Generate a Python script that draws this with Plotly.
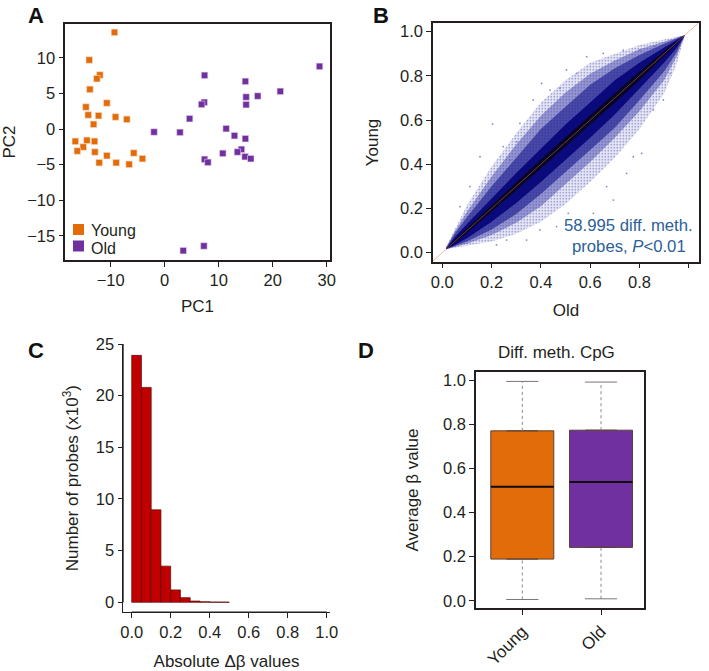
import plotly.graph_objects as go

W, H = 709, 671
FONT = "Liberation Sans"
INK = "#231f20"
ORANGE = "#E36C0A"
PURPLE = "#7030A0"
TITLE_SIZE = 17
TICK_SIZE = 16.5

# Panel A
young_pc1 = [-9.29,-13.96,-11.99,-12.55,-13.84,-10.7,-14.58,-14.15,-12.24,-9.1,-7.01,-13.16,-16.54,-14.39,-12.98,-15.07,-16.17,-12.92,-10.7,-5.72,-4.12,-12.12,-8.98,-6.58]
young_pc2 = [13.58,9.69,7.58,7.07,5.57,3.65,3.09,1.97,1.87,1.69,1.36,0.66,-1.73,-1.59,-1.73,-2.53,-3.09,-3.23,-3.75,-3.37,-4.17,-4.73,-4.73,-4.96]
old_pc1 = [28.66,7.38,14.94,21.4,17.22,15.07,15.07,7.32,6.83,4.61,-1.97,2.83,11.38,12.92,14.94,14.21,13.47,10.76,14.88,15.93,7.38,8.0,7.26,3.44]
old_pc2 = [8.8,7.54,6.69,5.29,4.63,4.49,3.42,3.75,3.46,1.45,-0.42,-0.47,0.05,-0.94,-1.36,-2.86,-3.23,-3.42,-3.89,-4.17,-4.26,-4.68,-16.43,-17.09]

# Panel B: density envelopes of the point cloud
band_x = [0.015,0.05,0.1,0.2,0.3,0.4,0.5,0.6,0.7,0.8,0.9,0.95,0.985]
sparse_hi = [0.025,0.105,0.215,0.39,0.54,0.68,0.78,0.86,0.90,0.94,0.965,0.978,0.985]
sparse_lo = [0.015,0.022,0.032,0.05,0.085,0.14,0.22,0.32,0.43,0.56,0.72,0.85,0.985]
outer_hi = [0.022,0.095,0.185,0.345,0.49,0.62,0.725,0.81,0.87,0.92,0.955,0.972,0.985]
outer_lo = [0.015,0.025,0.04,0.08,0.135,0.21,0.31,0.41,0.52,0.64,0.78,0.885,0.985]
mid_hi = [0.02,0.085,0.16,0.30,0.43,0.56,0.66,0.76,0.835,0.895,0.945,0.968,0.985]
mid_lo = [0.015,0.028,0.05,0.105,0.175,0.265,0.365,0.465,0.565,0.69,0.82,0.905,0.985]
dense_hi = [0.018,0.07,0.13,0.245,0.36,0.47,0.58,0.68,0.78,0.86,0.93,0.962,0.985]
dense_lo = [0.015,0.033,0.065,0.14,0.225,0.32,0.42,0.52,0.625,0.74,0.86,0.925,0.985]
core_hi = [0.018,0.058,0.11,0.215,0.318,0.422,0.522,0.622,0.722,0.82,0.912,0.956,0.985]
core_lo = [0.015,0.043,0.09,0.185,0.282,0.378,0.478,0.578,0.678,0.78,0.888,0.944,0.985]
# Scattered probes at the fringe of the cloud
fringe_old = [0.204,0.302,0.369,0.403,0.504,0.653,0.477,0.275,0.153,0.112,0.072,0.586,0.734,0.802,0.315,0.247,0.437,0.545,0.863,
              0.809,0.856,0.748,0.694,0.613,0.511,0.464,0.342,0.261,0.22,0.396,0.775,0.667,0.897,0.924]
fringe_young = [0.582,0.502,0.691,0.766,0.827,0.902,0.744,0.419,0.434,0.299,0.208,0.887,0.917,0.917,0.585,0.48,0.736,0.811,0.932,
                0.449,0.646,0.359,0.238,0.178,0.178,0.118,0.057,0.057,0.035,0.103,0.434,0.299,0.691,0.811]

# Panel C
bin_starts = [0.0,0.05,0.1,0.15,0.2,0.25,0.3,0.35,0.4,0.45]
probe_counts = [23.9,20.8,8.95,3.5,1.2,0.45,0.12,0.06,0.03,0.02]

# Panel D
groups = ["Young","Old"]
q1 = [0.189,0.242]
median = [0.517,0.538]
q3 = [0.770,0.773]
whisker_lo = [0.006,0.009]
whisker_hi = [0.994,0.991]


def dx(a, b):
    return [a / W, b / W]


def dy(top, bottom):
    return [1 - bottom / H, 1 - top / H]


fig = go.Figure()


def axis_style(**kw):
    base = dict(showgrid=False, zeroline=False, ticks="outside", ticklen=4.5, tickwidth=1.4, automargin=False,
                tickcolor=INK, linecolor=INK, tickfont=dict(family=FONT, size=TICK_SIZE, color=INK))
    base.update(kw)
    return base


def title(text, standoff):
    return dict(text=text, standoff=standoff, font=dict(family=FONT, size=TITLE_SIZE, color=INK))


# A
for name, xs, ys, col in [("Young", young_pc1, young_pc2, ORANGE), ("Old", old_pc1, old_pc2, PURPLE)]:
    fig.add_trace(go.Scatter(x=xs, y=ys, mode="markers", name=name, showlegend=False, xaxis="x", yaxis="y",
                             marker=dict(symbol="square", size=6.5, color=col, line=dict(width=0.6, color="#e8d8ee" if col == PURPLE else "#f8dcc4"))))

# B
fig.add_trace(go.Scatter(x=fringe_old, y=fringe_young, mode="markers", showlegend=False, hoverinfo="skip", xaxis="x2", yaxis="y2",
                         marker=dict(size=1.8, color="rgba(70,70,160,0.65)")))
tiers = [
    (sparse_hi, sparse_lo, "rgba(175,175,225,0.30)", dict(shape=".", size=3, solidity=0.16, fgcolor="#3034a0", fgopacity=0.7)),
    (outer_hi, outer_lo, "rgba(90,90,185,0.42)", dict(shape=".", size=2, solidity=0.22, fgcolor="#1a1a90", fgopacity=0.8)),
    (mid_hi, mid_lo, "rgba(25,25,140,0.62)", None),
    (dense_hi, dense_lo, "#0a0a7c", None),
    (core_hi, core_lo, "#060620", None),
]
for hi, lo, col, pat in tiers:
    kw = dict(fillpattern=pat) if pat else {}
    fig.add_trace(go.Scatter(x=band_x + band_x[::-1], y=hi + lo[::-1], mode="lines", fill="toself",
                             fillcolor=col, line=dict(width=0), showlegend=False, hoverinfo="skip",
                             xaxis="x2", yaxis="y2", **kw))
fig.add_trace(go.Scatter(x=[-0.04, 1.045], y=[-0.04, 1.045], mode="lines", showlegend=False, xaxis="x2", yaxis="y2",
                         line=dict(color="rgba(235,110,100,0.5)", width=1)))

# C
fig.add_trace(go.Bar(x=[b + 0.025 for b in bin_starts], y=probe_counts, width=0.05, showlegend=False,
                     marker=dict(color="#C00000", line=dict(color="#5a0a0a", width=0.7)), xaxis="x3", yaxis="y3"))

# D
for i, g in enumerate(groups):
    col = ORANGE if i == 0 else PURPLE
    fig.add_trace(go.Scatter(x=[i, i, None, i, i], y=[whisker_lo[i], q1[i], None, q3[i], whisker_hi[i]], mode="lines",
                             showlegend=False, xaxis="x4", yaxis="y4", line=dict(color="#8a8a8a", width=1, dash="dot")))
    cap = 0.205
    fig.add_trace(go.Scatter(x=[i - cap, i + cap, None, i - cap, i + cap], y=[whisker_lo[i], whisker_lo[i], None, whisker_hi[i], whisker_hi[i]],
                             mode="lines", showlegend=False, xaxis="x4", yaxis="y4", line=dict(color="#777777", width=1)))
    fig.add_trace(go.Box(x=[i], q1=[q1[i]], median=[median[i]], q3=[q3[i]], lowerfence=[q1[i]], upperfence=[q3[i]],
                         width=0.8, name=g, showlegend=False, fillcolor=col, line=dict(color="#5b4030", width=1),
                         xaxis="x4", yaxis="y4"))
    fig.add_trace(go.Scatter(x=[i - 0.4, i + 0.4], y=[median[i], median[i]], mode="lines", showlegend=False,
                             xaxis="x4", yaxis="y4", line=dict(color="#120a10", width=2)))

fig.update_layout(
    width=W, height=H, autosize=False, margin=dict(l=0, r=0, t=0, b=0), paper_bgcolor="white", plot_bgcolor="white",
    font=dict(family=FONT, color=INK), showlegend=False,
    xaxis=axis_style(domain=dx(65, 330), range=[-18.45, 30.6], anchor="y", showline=True, mirror=True, linewidth=2,
                     tickvals=[-10, 0, 10, 20, 30], ticktext=["\u221210", "0", "10", "20", "30"], title=title("PC1", 12)),
    yaxis=axis_style(domain=dy(24, 260), range=[-18.4, 14.75], anchor="x", showline=True, mirror=True, linewidth=2,
                     tickvals=[-15, -10, -5, 0, 5, 10], ticktext=["\u221215", "\u221210", "\u22125", "0", "5", "10"], title=title("PC2", 10)),
    xaxis2=axis_style(domain=dx(432.7, 699.3), range=[-0.039, 1.043], anchor="y2", showline=True, mirror=True, linewidth=2,
                      tickvals=[0, 0.2, 0.4, 0.6, 0.8, 1.0], ticktext=["0.0", "0.2", "0.4", "0.6", "0.8", ""], title=title("Old", 14)),
    yaxis2=axis_style(domain=dy(23.3, 261.7), range=[-0.041, 1.038], anchor="x2", showline=True, mirror=True, linewidth=2,
                      tickvals=[0, 0.2, 0.4, 0.6, 0.8, 1.0], tickformat=".1f", title=title("Young", 17)),
    xaxis3=axis_style(domain=dx(123, 330), range=[-0.0446, 1.0169], anchor="y3",
                      tickvals=[0, 0.2, 0.4, 0.6, 0.8, 1.0], tickformat=".1f", title=title("Absolute \u0394\u03b2 values", 16)),
    yaxis3=axis_style(domain=dy(344, 612.3), range=[-0.968, 25], anchor="x3",
                      tickvals=[0, 5, 10, 15, 20, 25], title=title("Number of probes (x10<sup>3</sup>)", 12)),
    xaxis4=axis_style(domain=dx(475.7, 644.3), range=[-0.592, 1.55], anchor="y4", showline=True, mirror=True, linewidth=2,
                      tickvals=[0, 1], ticktext=groups, tickangle=-45, tickfont=dict(family=FONT, size=TITLE_SIZE, color=INK)),
    yaxis4=axis_style(domain=dy(371.7, 608.3), range=[-0.034, 1.038], anchor="x4", showline=True, mirror=True, linewidth=2,
                      tickvals=[0, 0.2, 0.4, 0.6, 0.8, 1.0], tickformat=".1f", title=title("Average \u03b2 value", 20)),
)

shapes = [
    dict(type="line", xref="x3 domain", yref="y3", x0=0, x1=0, y0=0, y1=25, line=dict(color=INK, width=1.4)),
    dict(type="line", xref="x3", yref="y3 domain", x0=0, x1=1, y0=0, y1=0, line=dict(color=INK, width=1.4)),
]
for col, top in [(ORANGE, 224), (PURPLE, 240.5)]:
    shapes.append(dict(type="rect", xref="paper", yref="paper", x0=73 / W, x1=84 / W, y0=1 - (top + 11) / H, y1=1 - top / H,
                       fillcolor=col, line=dict(width=0)))
fig.update_layout(shapes=shapes)

ann = []
for t, x, y in [("A", 36, 16), ("B", 381, 16), ("C", 36, 350), ("D", 366, 350)]:
    ann.append(dict(text=t, x=x / W, y=1 - y / H, xref="paper", yref="paper", showarrow=False, xanchor="center", yanchor="middle",
                    font=dict(family=FONT, size=22, color="#111111", weight="bold")))
for t, y in [("Young", 230), ("Old", 248.5)]:
    ann.append(dict(text=t, x=88.5 / W, y=1 - y / H, xref="paper", yref="paper", showarrow=False, xanchor="left", yanchor="middle",
                    font=dict(family=FONT, size=16, color=INK)))
for t, y in [("58.995 diff. meth.", 226), ("probes, <i>P</i>&lt;0.01", 247)]:
    ann.append(dict(text=t, x=628.5 / W, y=1 - y / H, xref="paper", yref="paper", showarrow=False, xanchor="center", yanchor="middle",
                    font=dict(family=FONT, size=16.7, color="#2b6098")))
ann.append(dict(text="Diff. meth. CpG", x=556 / W, y=1 - 352 / H, xref="paper", yref="paper", showarrow=False, xanchor="center", yanchor="middle",
                font=dict(family=FONT, size=TITLE_SIZE, color=INK)))
fig.update_layout(annotations=ann)

fig.write_html("out.html", config=dict(displayModeBar=False), post_script="document.body.style.margin='0';")
